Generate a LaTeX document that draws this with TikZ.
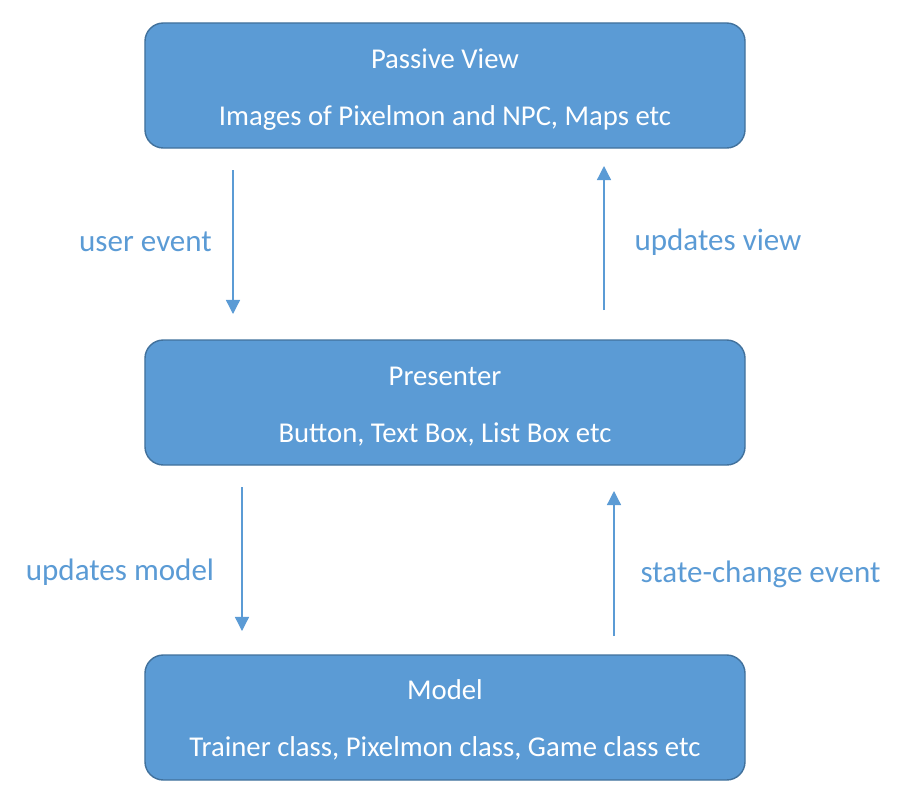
\documentclass[tikz,border=0pt]{standalone}
\usepackage{fontspec}
\setmainfont{Carlito}
\usepackage{xcolor}
\usetikzlibrary{arrows.meta}
\definecolor{boxblue}{HTML}{5B9BD5}
\definecolor{boxedge}{HTML}{41719C}

\begin{document}
\begin{tikzpicture}[x=0.03cm, y=-0.03cm,
  layer/.style={draw=boxedge, line width=1.2pt, fill=boxblue, rounded corners=0.55cm, minimum width=18cm, minimum height=3.75cm},
  inside/.style={text=white, font=\fontsize{24.5}{29}\selectfont},
  flow/.style={-{Triangle[width=12pt, length=12pt]}, draw=boxblue, line width=1.1pt},
  tag/.style={text=boxblue, font=\fontsize{26.5}{31}\selectfont}]
\useasboundingbox (0,0) rectangle (916,806);
\node (V) at (445,85.5) [layer] {};
\node (P) at (445,402.5) [layer] {};
\node (M) at (445,717.5) [layer] {};
\node[inside] (V1) at (445,59) {Passive View};
\node[inside] (V2) at (445,118) {Images of Pixelmon and NPC, Maps etc};
\node[inside] (P1) at (445,376) {Presenter};
\node[inside] (P2) at (445,434) {Button, Text Box, List Box etc};
\node[inside] (M1) at (445,690) {Model};
\node[inside] (M2) at (445,748) {Trainer class, Pixelmon class, Game class etc};
\coordinate (a1) at (233,170);
\coordinate (a2) at (233,314);
\coordinate (b1) at (604,310);
\coordinate (b2) at (604,166);
\coordinate (c1) at (242,487);
\coordinate (c2) at (242,631);
\coordinate (d1) at (614,636);
\coordinate (d2) at (614,491);
\draw [flow] (a1) -- (a2);
\draw [flow] (b1) -- (b2);
\draw [flow] (c1) -- (c2);
\draw [flow] (d1) -- (d2);
\node[tag] (U) at (145.5,242) {user event};
\node[tag] (UV) at (718,242) {updates view};
\node[tag] (UM) at (120,572) {updates model};
\node[tag] (SC) at (760.5,574) {state-change event};
\end{tikzpicture}
\end{document}
